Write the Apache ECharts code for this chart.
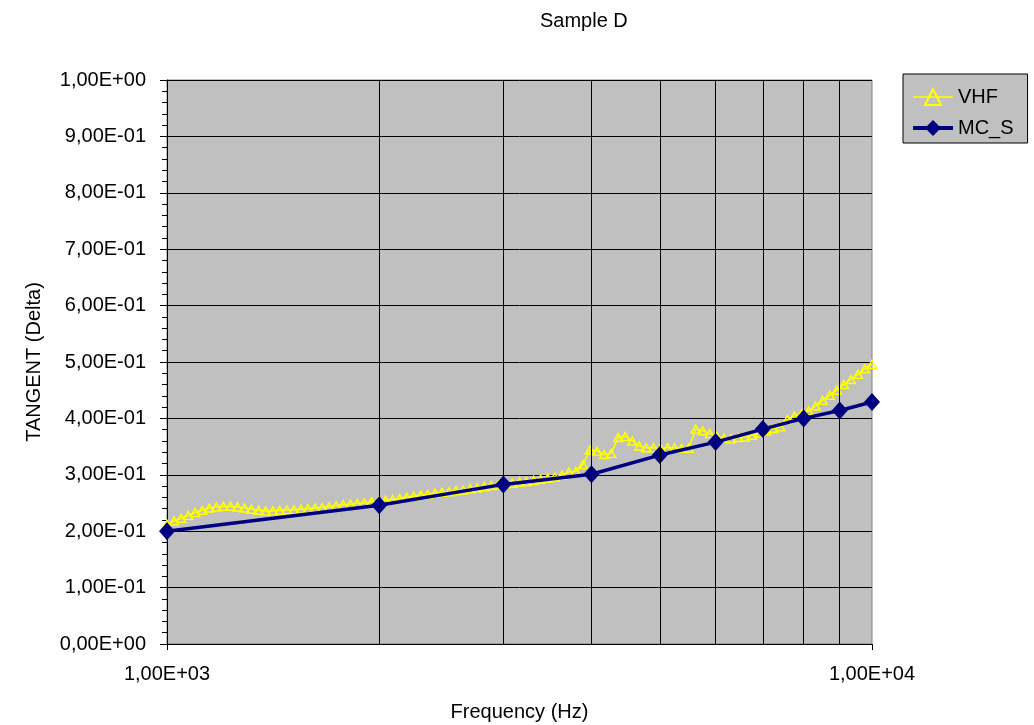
<!DOCTYPE html>
<html>
<head>
<meta charset="utf-8">
<script src="https://cdn.jsdelivr.net/npm/echarts@6/dist/echarts.min.js"></script>
<style>
html,body{margin:0;padding:0;background:#fff;}
#chart{width:1034px;height:725px;}
</style>
</head>
<body>
<div id="chart"></div>
<script>
// ---- data ----
const vhfFreq = [
  1000, 1023, 1047, 1072, 1096, 1122, 1148, 1175, 1202, 1230,
  1259, 1288, 1318, 1349, 1380, 1413, 1445, 1479, 1514, 1549,
  1585, 1622, 1660, 1698, 1738, 1778, 1820, 1862, 1905, 1950,
  1995, 2042, 2089, 2138, 2188, 2239, 2291, 2344, 2399, 2455,
  2512, 2570, 2630, 2692, 2754, 2818, 2884, 2951, 3020, 3090,
  3162, 3236, 3311, 3388, 3467, 3548, 3631, 3715, 3802, 3890,
  3981, 4074, 4169, 4266, 4365, 4467, 4571, 4677, 4786, 4898,
  5012, 5129, 5248, 5370, 5495, 5623, 5754, 5888, 6026, 6166,
  6310, 6457, 6607, 6761, 6918, 7079, 7244, 7413, 7586, 7762,
  7943, 8128, 8318, 8511, 8710, 8913, 9120, 9333, 9550, 9772,
  10000
];
const vhfValues = [
  0.212, 0.218, 0.223, 0.228, 0.233, 0.237, 0.241, 0.243, 0.244, 0.244,
  0.243, 0.241, 0.239, 0.237, 0.236, 0.236, 0.237, 0.238, 0.238, 0.239,
  0.240, 0.241, 0.242, 0.243, 0.245, 0.247, 0.248, 0.249, 0.250, 0.252,
  0.253, 0.255, 0.256, 0.258, 0.260, 0.262, 0.264, 0.265, 0.267, 0.269,
  0.270, 0.272, 0.273, 0.275, 0.277, 0.279, 0.281, 0.282, 0.284, 0.285,
  0.287, 0.288, 0.290, 0.292, 0.294, 0.296, 0.299, 0.305, 0.306, 0.318,
  0.344, 0.342, 0.336, 0.338, 0.366, 0.368, 0.360, 0.351, 0.348, 0.348,
  0.347, 0.348, 0.348, 0.347, 0.347, 0.381, 0.378, 0.373, 0.368, 0.365,
  0.364, 0.366, 0.367, 0.370, 0.374, 0.378, 0.382, 0.385, 0.398, 0.404,
  0.408, 0.413, 0.422, 0.432, 0.441, 0.450, 0.460, 0.469, 0.478, 0.488,
  0.496
];
const mcFreq = [1000, 2000, 3000, 4000, 5000, 6000, 7000, 8000, 9000, 10000];
const mcValues = [0.200, 0.246, 0.283, 0.301, 0.335, 0.358, 0.381, 0.400, 0.414, 0.429];

const xGridFreqs = [2000, 3000, 4000, 5000, 6000, 7000, 8000, 9000];
const xTickValues = [1000, 10000];
const xTickLabels = ['1,00E+03', '1,00E+04'];
const yTickLabels = ['0,00E+00', '1,00E-01', '2,00E-01', '3,00E-01', '4,00E-01', '5,00E-01',
                     '6,00E-01', '7,00E-01', '8,00E-01', '9,00E-01', '1,00E+00'];

const titleText = 'Sample D';
const xName = 'Frequency (Hz)';
const yName = 'TANGENT (Delta)';

// ---- chart ----
const FONT = '"Liberation Sans", Arial, sans-serif';
const chart = echarts.init(document.getElementById('chart'), null, {renderer: 'canvas'});

const option = {
  animation: false,
  backgroundColor: '#ffffff',
  textStyle: {fontFamily: FONT, color: '#000'},
  title: {
    text: titleText,
    left: 535, top: 6,
    textStyle: {fontFamily: FONT, fontSize: 20, fontWeight: 'normal', color: '#000'}
  },
  legend: {
    data: [
      {name: 'VHF', lineStyle: {width: 1.5}},
      {name: 'MC_S', lineStyle: {width: 4}}
    ],
    orient: 'vertical',
    left: 903, top: 74,
    backgroundColor: '#C0C0C0',
    borderColor: '#000',
    borderWidth: 1,
    borderRadius: 0,
    padding: [13, 14, 5, 8],
    itemGap: 11,
    itemWidth: 40,
    itemHeight: 20,
    textStyle: {fontFamily: FONT, fontSize: 20, color: '#000'}
  },
  grid: {
    left: 167, right: 162, top: 80, bottom: 81,
    outerBoundsMode: 'none',
    containLabel: false,
    show: true,
    backgroundColor: '#C0C0C0',
    borderColor: '#808080',
    borderWidth: 1
  },
  xAxis: {
    type: 'log',
    logBase: 10,
    min: 1000,
    max: 10000,
    name: xName,
    nameLocation: 'middle',
    nameGap: 58,
    nameTextStyle: {fontFamily: FONT, fontSize: 20, color: '#000'},
    axisLine: {show: true, lineStyle: {color: '#000', width: 1}},
    axisTick: {show: true, length: 6, lineStyle: {color: '#000'}},
    axisLabel: {
      margin: 20,
      fontFamily: FONT, fontSize: 20, color: '#000',
      formatter: function (v) {
        const i = xTickValues.findIndex(t => Math.abs(t - v) < 1e-6 * t);
        return i >= 0 ? xTickLabels[i] : '';
      }
    },
    splitLine: {show: false},
    minorTick: {show: false},
    minorSplitLine: {show: false}
  },
  yAxis: {
    type: 'value',
    min: 0, max: 1, interval: 0.1,
    name: yName,
    nameLocation: 'middle',
    nameRotate: 90,
    nameGap: 123,
    nameTextStyle: {fontFamily: FONT, fontSize: 20, color: '#000'},
    axisLine: {show: true, lineStyle: {color: '#000', width: 1}},
    axisTick: {show: true, length: 7, lineStyle: {color: '#000'}},
    minorTick: {show: true, splitNumber: 5, length: 5, lineStyle: {color: '#000'}},
    axisLabel: {
      margin: 21,
      fontFamily: FONT, fontSize: 20, color: '#000',
      formatter: function (v) { return yTickLabels[Math.round(v * 10)]; }
    },
    splitLine: {show: true, lineStyle: {color: '#000', width: 1}}
  },
  series: [
    {
      name: '_grid',
      type: 'line',
      data: [],
      z: 1,
      silent: true,
      markLine: {
        silent: true,
        symbol: ['none', 'none'],
        label: {show: false},
        lineStyle: {color: '#000', width: 1, type: 'solid'},
        emphasis: {disabled: true},
        data: xGridFreqs.map(f => ({xAxis: f}))
      }
    },
    {
      name: 'VHF',
      type: 'line',
      z: 3,
      data: vhfFreq.map((f, i) => [f, vhfValues[i]]),
      symbol: 'triangle',
      symbolSize: [9, 8],
      showAllSymbol: true,
      lineStyle: {color: '#FFFF00', width: 1.5},
      itemStyle: {color: 'rgba(0,0,0,0)', borderColor: '#FFFF00', borderWidth: 1.5},
      emphasis: {disabled: true}
    },
    {
      name: 'MC_S',
      type: 'line',
      z: 4,
      data: mcFreq.map((f, i) => [f, mcValues[i]]),
      symbol: 'diamond',
      symbolSize: [16, 18],
      lineStyle: {color: '#000080', width: 3.5},
      itemStyle: {color: '#000080', borderColor: '#000080', borderWidth: 0},
      emphasis: {disabled: true}
    }
  ]
};
chart.setOption(option);
</script>
</body>
</html>
